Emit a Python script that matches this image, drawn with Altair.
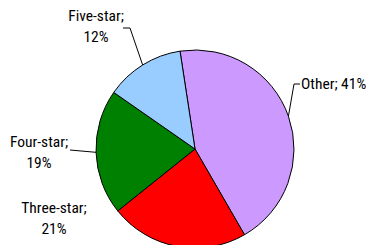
import math
import altair as alt
import pandas as pd

# ---- data ----
categories = ["Other", "Three-star", "Four-star", "Five-star"]
values = [41, 21, 19, 12]
colors = ["#CC99FF", "#FF0000", "#008000", "#99CCFF"]
label_texts = ["Other; 41%", "Three-star;\n21%", "Four-star;\n19%", "Five-star;\n12%"]

# ---- layout (svg pixel coordinates) ----
W, H = 358, 237
CX, CY, R = 187, 141, 99
START = math.radians(-8.7)
FONT = "Roboto Condensed, Arial Narrow, Roboto, sans-serif"
FS = 15.5
# label anchor (x, baseline y of first line, align)
LABEL_POS = {
    "Other": (293, 81, "left"),
    "Three-star": (46, 205, "center"),
    "Four-star": (31, 139, "center"),
    "Five-star": (88, 13, "center"),
}
# leader elbow (x, y) and tick start x (or same x when no tick)
LEADER = {
    "Other": (286, 76, 292),
    "Four-star": (62, 142, 62),
    "Five-star": (122, 20, 115),
}

df = pd.DataFrame({
    "category": categories,
    "value": values,
    "idx": list(range(len(categories))),
    "label": label_texts,
})
df["lx"] = [LABEL_POS[c][0] for c in categories]
df["ly"] = [LABEL_POS[c][1] for c in categories]
df["align"] = [LABEL_POS[c][2] for c in categories]
df["has_leader"] = [c in LEADER for c in categories]
df["elx"] = [LEADER.get(c, (0, 0, 0))[0] for c in categories]
df["ely"] = [LEADER.get(c, (0, 0, 0))[1] for c in categories]
df["tx"] = [LEADER.get(c, (0, 0, 0))[2] for c in categories]

color_scale = alt.Scale(domain=categories, range=colors)

pie = alt.Chart(df).mark_arc(
    outerRadius=R, stroke="black", strokeWidth=1, x=CX, y=CY
).encode(
    theta=alt.Theta("value:Q", stack=True,
                    scale=alt.Scale(range=[START, START + 2 * math.pi])),
    order=alt.Order("idx:Q"),
    color=alt.Color("category:N", scale=color_scale, legend=None),
)

leaders_base = alt.Chart(df).transform_joinaggregate(
    total="sum(value)"
).transform_window(
    cum="sum(value)", sort=[alt.SortField("idx", order="ascending")], frame=[None, 0]
).transform_calculate(
    mid=f"{START} + 2*PI*(datum.cum - datum.value/2)/datum.total"
).transform_calculate(
    ex=f"{CX} + {R}*sin(datum.mid)",
    ey=f"{CY} - {R}*cos(datum.mid)",
).transform_filter("datum.has_leader")

leader_lines = leaders_base.mark_rule(color="black", strokeWidth=1).encode(
    x=alt.X("elx:Q", scale=None, axis=None),
    y=alt.Y("ely:Q", scale=None, axis=None),
    x2="ex:Q",
    y2="ey:Q",
)
leader_ticks = leaders_base.mark_rule(color="black", strokeWidth=1).encode(
    x=alt.X("tx:Q", scale=None, axis=None),
    y=alt.Y("ely:Q", scale=None, axis=None),
    x2="elx:Q",
    y2="ely:Q",
)

def label_layer(align):
    return alt.Chart(df).transform_filter(
        f"datum.align == '{align}'"
    ).mark_text(
        font=FONT, fontSize=FS, color="black", align=align,
        baseline="alphabetic", lineBreak="\n", lineHeight=21,
    ).encode(
        x=alt.X("lx:Q", scale=None, axis=None),
        y=alt.Y("ly:Q", scale=None, axis=None),
        text="label:N",
    )

chart = alt.layer(
    pie, leader_lines, leader_ticks, label_layer("left"), label_layer("center")
).properties(
    width=W, height=H, padding=0,
    autosize=alt.AutoSizeParams(type="none"),
).configure_view(stroke=None)

chart.save("out.html", embed_options={"renderer": "svg", "actions": False})
